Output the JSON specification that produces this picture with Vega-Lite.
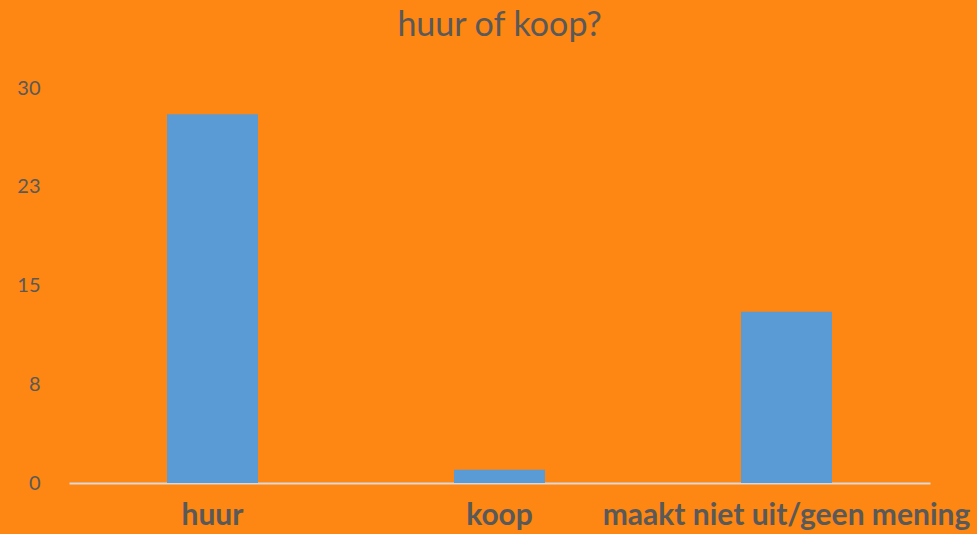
{
  "$schema": "https://vega.github.io/schema/vega-lite/v6.json",
  "width": 861,
  "height": 395,
  "autosize": {"type": "none"},
  "padding": {"left": 69, "top": 88, "right": 47, "bottom": 51},
  "background": "#FE8612",
  "title": {
    "text": "huur of koop?",
    "font": "Lato",
    "fontSize": 34,
    "fontWeight": "normal",
    "color": "#595959",
    "anchor": "middle",
    "offset": 8,
    "baseline": "alphabetic"
  },
  "config": {
    "view": {"stroke": null},
    "font": "Lato"
  },
  "data": {
    "values": [
      {"categorie": "huur", "aantal": 28},
      {"categorie": "koop", "aantal": 1},
      {"categorie": "maakt niet uit/geen mening", "aantal": 13}
    ]
  },
  "mark": {"type": "bar", "color": "#5B9BD5"},
  "encoding": {
    "x": {
      "field": "categorie",
      "type": "nominal",
      "sort": null,
      "scale": {"paddingInner": 0.683, "paddingOuter": 0.3415},
      "axis": {
        "title": null,
        "labelAngle": 0,
        "labelFont": "Lato",
        "labelFontSize": 30,
        "labelFontWeight": "bold",
        "labelColor": "#595959",
        "labelPadding": 17,
        "labelLimit": 0,
        "labelOverlap": false,
        "labelBound": false,
        "ticks": false,
        "domainColor": "#D9D9D9",
        "domainWidth": 2,
        "grid": false
      }
    },
    "y": {
      "field": "aantal",
      "type": "quantitative",
      "scale": {"domain": [0, 30], "nice": false},
      "axis": {
        "title": null,
        "values": [0, 7.5, 15, 22.5, 30],
        "labelExpr": "format(round(datum.value), 'd')",
        "labelFont": "Lato",
        "labelFontSize": 20,
        "labelColor": "#595959",
        "labelPadding": 29,
        "ticks": false,
        "domain": false,
        "grid": false
      }
    }
  }
}
